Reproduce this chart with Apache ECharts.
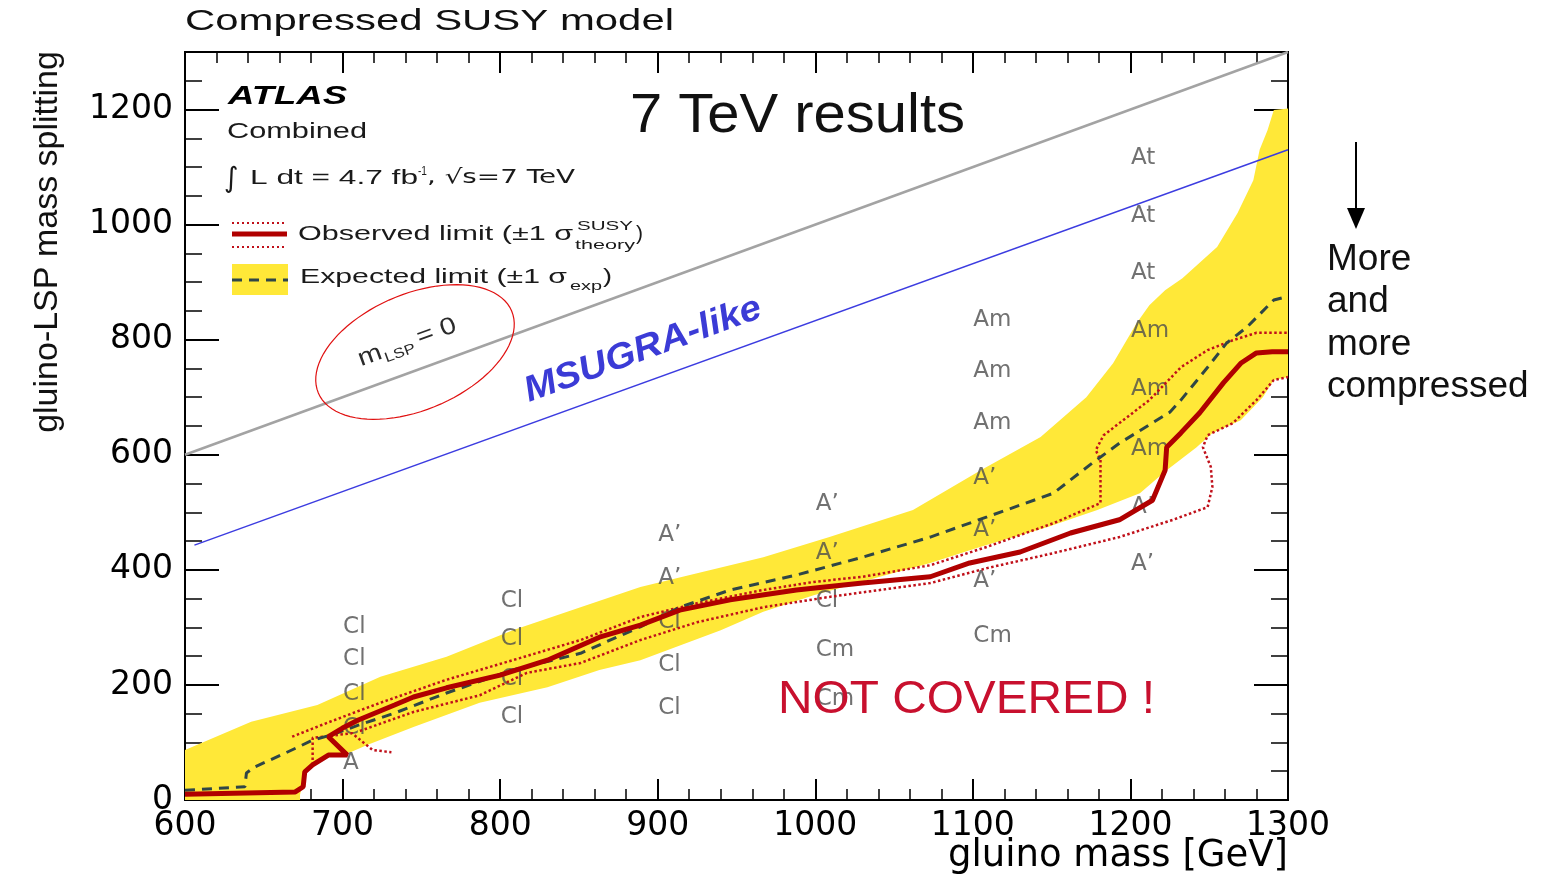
<!DOCTYPE html>
<html><head><meta charset="utf-8">
<script src="https://cdn.jsdelivr.net/npm/echarts@6/dist/echarts.min.js"></script>
<style>html,body{margin:0;padding:0;background:#fff}#c{width:1545px;height:877px}</style>
</head><body><div id="c"></div>
<script>
// ---------------- data (gluino mass [GeV], mass splitting [GeV]) ----------------
const observed = [[600,10],[670,14],[675,23],[676,49],[681,61],[691,78],[703,78],[691,110],[700,125],[710,139],[733,165],[745,179],[766,195],[800,217],[830,243],[863,283],[889,304],[914,330],[946,348],[988,365],[1030,377],[1073,388],[1098,412],[1130,431],[1162,464],[1193,487],[1214,521],[1222,573],[1223,613],[1232,638],[1244,673],[1259,725],[1270,759],[1280,777],[1290,779],[1300,779]];
const obsPlus = [[668,110],[692,136],[724,169],[766,209],[808,243],[851,278],[889,318],[925,342],[967,365],[999,379],[1030,388],[1073,408],[1109,440],[1151,481],[1181,516],[1181,591],[1178,608],[1183,634],[1193,655],[1212,695],[1232,752],[1249,782],[1265,799],[1280,812],[1300,812]];
const obsMinus = [[711,120],[745,153],[787,182],[817,221],[851,238],[889,278],[925,309],[967,335],[1009,353],[1041,365],[1073,377],[1109,403],[1151,429],[1193,457],[1227,487],[1249,509],[1252,544],[1251,579],[1246,613],[1249,634],[1265,655],[1280,695],[1291,730],[1300,735]];
const obsMinusLow = [[681,61],[681,108],[706,116],[719,87],[731,83]];
const expected = [[600,17],[638,23],[639,47],[644,57],[664,82],[681,104],[693,113],[710,130],[733,151],[766,186],[808,226],[851,255],[889,301],[914,335],[946,365],[988,391],[1030,422],[1073,457],[1109,492],[1151,533],[1176,586],[1193,620],[1225,674],[1232,695],[1249,752],[1261,794],[1274,822],[1291,869],[1298,874]];
const bandUpper = [[600,87],[642,136],[684,165],[724,214],[766,249],[808,295],[851,335],[889,370],[925,394],[967,422],[1009,457],[1062,504],[1105,573],[1143,631],[1172,700],[1189,759],[1204,829],[1212,860],[1222,886],[1233,907],[1255,961],[1268,1020],[1278,1077],[1282,1130],[1287,1164],[1291,1199],[1300,1202]];
const bandLower = [[1300,735],[1291,730],[1284,700],[1270,660],[1252,638],[1242,613],[1223,573],[1206,533],[1179,504],[1147,474],[1105,440],[1073,412],[1041,388],[999,356],[967,327],[940,295],[889,243],[863,226],[830,196],[787,169],[745,127],[716,96],[705,83],[692,75],[681,61],[676,43],[673,9],[673,0],[600,0]];
const mLsp0Line = [[600,600],[1300,1300]];
const msugraLine = [[606,443],[1300,1130]];
const regionLabels = [
  [700,300,'Cl'],[700,245,'Cl'],[700,185,'Cl'],[700,125,'Cl'],[700,65,'A'],
  [800,345,'Cl'],[800,280,'Cl'],[800,210,'Cl'],[800,145,'Cl'],
  [900,460,'A\u2019'],[900,385,'A\u2019'],[900,310,'Cl'],[900,235,'Cl'],[900,160,'Cl'],
  [1000,515,'A\u2019'],[1000,430,'A\u2019'],[1000,345,'Cl'],[1000,260,'Cm'],[1000,175,'Cm'],
  [1100,835,'Am'],[1100,745,'Am'],[1100,655,'Am'],[1100,560,'A\u2019'],[1100,470,'A\u2019'],[1100,380,'A\u2019'],[1100,285,'Cm'],
  [1200,1115,'At'],[1200,1015,'At'],[1200,915,'At'],[1200,815,'Am'],[1200,715,'Am'],[1200,610,'Am'],[1200,510,'A\u2019'],[1200,410,'A\u2019']
];
const xRange = [600, 1300];
const yRange = [0, 1300];

// ---------------- styling / helpers ----------------
const SANS = '"Liberation Sans", Arial, sans-serif';
const DJV = '"DejaVu Sans", sans-serif';
const mctx = document.createElement('canvas').getContext('2d');
function txt(text, x, y, font, targetW, color, opts) {
  opts = opts || {};
  let sx = 1;
  if (targetW) { mctx.font = font; sx = targetW / mctx.measureText(text).width; }
  const al = opts.align || 'left';
  return {
    type: 'text', x: x, y: y, z: 100, scaleX: sx, rotation: opts.rotation || 0,
    style: { text: text, font: font, fill: color, align: al, textAlign: al, verticalAlign: 'middle', textVerticalAlign: 'middle' }
  };
}
const TXT = '#1a1a1a';

const ell = [];
{
  const ang = 23 * Math.PI / 180, ca = Math.cos(ang), sa = Math.sin(ang);
  for (let i = 0; i < 90; i++) {
    const t = i / 90 * 2 * Math.PI, ex = 105 * Math.cos(t), ey = 58 * Math.sin(t);
    ell.push([415 + ex * ca + ey * sa, 352 - ex * sa + ey * ca]);
  }
}

const graphics = [
  txt('Compressed SUSY model', 185, 22, '30px ' + SANS, 489, '#111'),
  txt('ATLAS', 228, 97, 'italic bold 26px ' + SANS, 119, '#000'),
  txt('Combined', 227, 132, '22px ' + SANS, 140, TXT),
  txt('\u222B', 224, 180, '28px ' + DJV, 0, TXT),
  txt('L dt = 4.7 fb', 250, 178, '20px ' + SANS, 168, TXT),
  txt('-1', 418, 171, '13px ' + SANS, 9, TXT),
  txt(', \u221As=7 TeV', 427, 178, '20px ' + DJV, 148, TXT),
  {type:'line', z:100, shape:{x1:232,y1:223,x2:287,y2:223}, style:{stroke:'#c0101a', lineWidth:2, lineDash:[2,3]}},
  {type:'line', z:100, shape:{x1:232,y1:234,x2:287,y2:234}, style:{stroke:'#b00000', lineWidth:5}},
  {type:'line', z:100, shape:{x1:232,y1:247,x2:287,y2:247}, style:{stroke:'#c0101a', lineWidth:2, lineDash:[2,3]}},
  {type:'rect', z:100, shape:{x:232,y:264,width:56,height:31}, style:{fill:'#ffe838'}},
  {type:'line', z:101, shape:{x1:232,y1:280,x2:288,y2:280}, style:{stroke:'#2f4646', lineWidth:3, lineDash:[10,7]}},
  txt('Observed limit (\u00b11 \u03c3', 298, 234, '21px ' + SANS, 275, TXT),
  txt('SUSY', 577, 226, '13px ' + SANS, 56, TXT),
  txt('theory', 575, 245, '13px ' + SANS, 60, TXT),
  txt(')', 636, 234, '21px ' + SANS, 7, TXT),
  txt('Expected limit (\u00b11 \u03c3', 300, 277, '21px ' + SANS, 267, TXT),
  txt('exp', 570, 286, '13px ' + SANS, 32, TXT),
  txt(')', 603, 277, '21px ' + SANS, 9, TXT),
  txt('7 TeV results', 630, 117, '56px ' + SANS, 335, '#111'),
  txt('NOT COVERED !', 778, 700, '46px ' + SANS, 377, '#c8102e'),
  txt('More', 1327, 260, '37px ' + SANS, 0, '#111'),
  txt('and', 1327, 302, '37px ' + SANS, 0, '#111'),
  txt('more', 1327, 345, '37px ' + SANS, 0, '#111'),
  txt('compressed', 1327, 387, '37px ' + SANS, 0, '#111'),
  {type:'line', z:100, shape:{x1:1356,y1:142,x2:1356,y2:212}, style:{stroke:'#000', lineWidth:2}},
  {type:'polygon', z:100, shape:{points:[[1347,208],[1365,208],[1356,229]]}, style:{fill:'#000'}},
  {type:'polygon', z:100, shape:{points:ell}, style:{fill:'none', stroke:'#e01010', lineWidth:1.2}},
  txt('MSUGRA-like', 643, 350, 'italic bold 36px ' + SANS, 250, '#3b3bd6', {align:'center', rotation: 20 * Math.PI / 180}),
  {type:'group', x:422, y:337, rotation: 20 * Math.PI / 180, scaleX: 1.2, z:100, children:[
    {type:'text', x:-56, y:0, z:100, style:{text:'m', font:'24px ' + SANS, fill:'#2a2a2a', align:'left', textAlign:'left', verticalAlign:'middle', textVerticalAlign:'middle'}},
    {type:'text', x:-35, y:8, z:100, style:{text:'LSP', font:'14px ' + SANS, fill:'#2a2a2a', align:'left', textAlign:'left', verticalAlign:'middle', textVerticalAlign:'middle'}},
    {type:'text', x:-4, y:0, z:100, style:{text:'= 0', font:'24px ' + SANS, fill:'#2a2a2a', align:'left', textAlign:'left', verticalAlign:'middle', textVerticalAlign:'middle'}}
  ]}
];

function lineSeries(name, data, color, width, type, z) {
  return { type:'line', name: name, data: data, showSymbol:false, symbol:'none', z: z, silent:true,
    lineStyle:{ color: color, width: width, type: type }, emphasis:{disabled:true} };
}
const plainNum = function (v) { return String(v); };
const axLine = { show:true, onZero:false, lineStyle:{ color:'#000', width:2 } };
function xAx(pos, labels) {
  return { type:'value', min:xRange[0], max:xRange[1], interval:100, position:pos,
    axisLine: axLine, splitLine:{show:false}, minorSplitLine:{show:false},
    axisTick:{ show:true, inside:true, length:21, lineStyle:{color:'#000', width:2} },
    minorTick:{ show:true, splitNumber:5, length:11, lineStyle:{color:'#000', width:1.5} },
    axisLabel: labels ? { fontFamily:DJV, fontSize:33, color:'#000', margin:10, formatter: plainNum } : { show:false } };
}
function yAx(pos, interval, len, labels) {
  return { type:'value', min:yRange[0], max:yRange[1], interval:interval, position:pos,
    axisLine: axLine, splitLine:{show:false},
    axisTick:{ show:true, inside:true, length:len, lineStyle:{color:'#000', width: interval === 200 ? 2 : 1.5} },
    axisLabel: labels ? { fontFamily:DJV, fontSize:33, color:'#000', margin:12, showMaxLabel:false, formatter: plainNum } : { show:false } };
}
const xBottom = Object.assign(xAx('bottom', true), {
  name:'gluino mass [GeV]', nameLocation:'end', nameGap:0, nameMoveOverlap:false,
  nameTextStyle:{ fontFamily:DJV, fontSize:37, color:'#000', align:'right', verticalAlign:'top', padding:[38,0,0,0] } });
const yLeft = Object.assign(yAx('left', 200, 34, true), {
  name:'gluino-LSP mass splitting', nameLocation:'middle', nameGap:120, nameRotate:90, nameMoveOverlap:false,
  nameTextStyle:{ fontFamily:SANS, fontSize:34, color:'#111', padding:[0,0,0,368] } });

const chart = echarts.init(document.getElementById('c'), null, { renderer:'canvas' });
chart.setOption({
  animation:false,
  backgroundColor:'#fff',
  grid:{ left:185, top:52, width:1103, height:748, containLabel:false, outerBoundsMode:'none' },
  xAxis:[ xBottom, xAx('top', false) ],
  yAxis:[ yLeft, yAx('right', 200, 34, false), yAx('right', 50, 17, false), yAx('left', 50, 17, false) ],
  graphic:{ elements: graphics },
  series:[
    { type:'custom', name:'Expected band', coordinateSystem:'cartesian2d', z:1, silent:true,
      data: bandUpper,
      renderItem: function (params, api) {
        if (params.dataIndex !== 0) return null;
        const pts = bandUpper.concat(bandLower).map(function (p) { return api.coord(p); });
        return { type:'polygon', shape:{ points: pts }, style:{ fill:'#ffe838' } };
      } },
    { type:'scatter', name:'Signal regions', z:2, silent:true, symbolSize:1,
      itemStyle:{ color:'rgba(0,0,0,0)' },
      data: regionLabels.map(function (d) { return { value:[d[0], d[1]], name:d[2] }; }),
      label:{ show:true, position:'right', distance:0, formatter:'{b}', fontFamily:DJV, fontSize:23, color:'#4d4d4d' } },
    lineSeries('m_LSP = 0', mLsp0Line, '#a3a3a3', 2.5, 'solid', 3),
    lineSeries('MSUGRA-like', msugraLine, '#3c3ce0', 1.5, 'solid', 3),
    lineSeries('Observed +1sigma', obsPlus, '#c0101a', 2.5, [2.5, 2.5], 4),
    lineSeries('Observed -1sigma', obsMinus, '#c0101a', 2.5, [2.5, 2.5], 4),
    lineSeries('Observed -1sigma (low)', obsMinusLow, '#c0101a', 2.5, [2.5, 2.5], 4),
    lineSeries('Expected limit', expected, '#2f4646', 3, [10, 7], 5),
    lineSeries('Observed limit', observed, '#b00000', 5, 'solid', 6)
  ]
});
</script>
</body></html>
